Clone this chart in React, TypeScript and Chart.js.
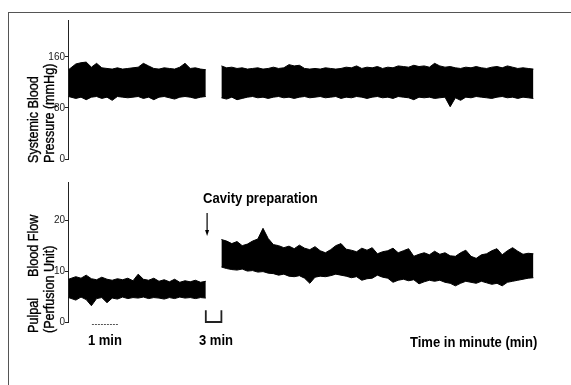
import React, { useEffect, useRef } from "react";
import { Chart, registerables } from "chart.js";

Chart.register(...registerables);

// ---- time samples (minutes, as displayed on the recording) ----
const T_SEG1 = [0.02, 0.3, 0.5, 0.7, 0.9, 1.1, 1.3, 1.5, 1.7, 1.9, 2.1, 2.3, 2.5, 2.7, 2.9, 3.1, 3.3, 3.5, 3.7, 3.9, 4.1, 4.3, 4.5, 4.7, 4.9, 5.1, 5.3];
const T_SEG2 = [
  5.9, 6.1, 6.3, 6.5, 6.7, 6.9, 7.1, 7.3, 7.5, 7.7,
  7.9, 8.1, 8.3, 8.5, 8.7, 8.9, 9.1, 9.3, 9.5, 9.7,
  9.9, 10.1, 10.3, 10.5, 10.7, 10.9, 11.1, 11.3, 11.5, 11.7,
  11.9, 12.1, 12.3, 12.5, 12.7, 12.9, 13.1, 13.3, 13.5, 13.7,
  13.9, 14.1, 14.3, 14.5, 14.7, 14.9, 15.1, 15.3, 15.5, 15.7,
  15.9, 16.1, 16.3, 16.5, 16.7, 16.9, 17.1, 17.3, 17.5, 17.7,
  17.9,
];

// ---- systemic blood pressure (mmHg): upper / lower envelope of the trace ----
const BP_HIGH_1 = [140, 149, 151, 152, 144, 150, 143, 142, 141, 143, 141, 142, 143, 144, 150, 146, 142, 141, 143, 142, 141, 144, 150, 142, 143, 141, 140];
const BP_LOW_1 = [98, 95, 97, 93, 97, 98, 95, 97, 92, 98, 97, 96, 97, 98, 95, 97, 93, 97, 98, 96, 94, 97, 98, 97, 95, 97, 98];
const BP_HIGH_2 = [
  146, 143, 144, 142, 143, 141, 142, 143, 141, 142,
  144, 142, 143, 148, 146, 147, 142, 141, 142, 141,
  143, 142, 141, 142, 144, 143, 146, 142, 144, 143,
  145, 142, 144, 143, 146, 145, 144, 147, 145, 146,
  144, 150, 146, 144, 145, 143, 142, 144, 143, 145,
  143, 142, 144, 145, 143, 146, 144, 142, 143, 142,
  141,
];
const BP_LOW_2 = [
  96, 94, 97, 93, 95, 97, 98, 96, 97, 95,
  97, 98, 96, 97, 95, 97, 98, 96, 97, 98,
  96, 97, 98, 95, 97, 96, 98, 97, 95, 97,
  98, 96, 97, 95, 98, 97, 96, 93, 97, 96,
  97, 95, 96, 97, 82, 96, 92, 97, 96, 98,
  97, 96, 95, 97, 98, 96, 97, 95, 97, 96,
  95,
];

// ---- pulpal blood flow (perfusion units): upper / lower envelope ----
const PF_HIGH_1 = [8.4, 8.9, 8.6, 9.2, 8.5, 8.3, 8.8, 8.4, 8.2, 8.5, 8.3, 8.6, 8.1, 9.4, 8.4, 8.2, 8.6, 8.0, 8.3, 7.9, 8.4, 7.8, 8.1, 7.9, 8.2, 7.8, 8.0];
const PF_LOW_1 = [4.8, 4.3, 4.9, 4.4, 3.2, 4.6, 4.8, 3.8, 4.7, 4.5, 4.9, 4.6, 4.8, 4.7, 4.9, 4.6, 4.8, 4.7, 4.5, 4.8, 4.6, 4.9, 4.7, 4.8, 4.6, 4.8, 4.7];
const PF_HIGH_2 = [
  16.2, 15.9, 15.4, 15.8, 15.0, 15.3, 15.9, 16.3, 18.4, 16.4,
  15.2, 15.0, 14.6, 14.9, 14.4, 15.1, 14.5, 14.2, 14.8, 14.0,
  13.6, 14.2, 15.0, 15.4, 14.3, 14.1, 13.8, 14.5, 14.1, 14.6,
  13.4, 13.8, 14.0, 14.5, 13.6, 14.0, 14.4, 12.9, 13.3, 13.6,
  13.2, 13.9, 13.3, 13.6, 13.0, 12.9, 13.6, 14.1, 12.9, 12.5,
  13.2, 13.4, 14.0, 14.4, 13.2, 14.0, 14.6, 13.9, 13.3, 13.5,
  13.4,
];
const PF_LOW_2 = [
  10.8, 10.5, 10.3, 10.2, 10.4, 10.0, 10.1, 9.8, 9.9, 9.6,
  9.5, 9.2, 9.4, 9.0, 8.9, 9.1, 8.6, 7.6, 8.8, 9.0,
  8.9, 9.1, 9.4, 9.2, 9.0, 8.7, 8.9, 8.2, 8.5, 8.6,
  9.2, 8.8, 8.6, 7.8, 8.2, 8.4, 8.1, 8.3, 7.5, 7.9,
  8.2, 8.0, 8.2, 7.8, 7.6, 7.1, 7.6, 8.0, 7.8, 7.6,
  8.0, 7.7, 7.4, 7.6, 7.1, 7.8, 8.0, 8.2, 8.4, 8.6,
  8.7,
];

// ---- axes ----
const BP_TICKS = [0, 80, 160];
const BP_MAX = 218;
const PF_TICKS = [0, 10, 20];
const PF_MAX = 27.5;
const X_MAX = 18.5;

// ---- annotation values (data units) ----
const CAVITY_T = 5.35;
const CAVITY_LABEL = "Cavity preparation";
const ARROW_FROM = 21.4;
const ARROW_TO = 16.9;
const CAVITY_TEXT_Y = 23.4;
const BRACKET_HEIGHT = 2.3;
const SCALE_BAR = [0.92, 1.92];
const ONE_MIN_LABEL = "1 min";
const THREE_MIN_LABEL = "3 min";
const THREE_MIN_T = 5.69;
const X_TITLE = "Time in minute (min)";
const X_TITLE_T = 15.6;

const TICK_FONT = { family: "'Liberation Sans Narrow', 'Liberation Sans', Arial, sans-serif", size: 10 };
const TITLE_FONT = "14px 'Liberation Sans', Arial, sans-serif";
const BOLD_FONT = "bold 15px 'Liberation Sans', Arial, sans-serif";

function pts(t: number[], v: number[]) {
  return t.map((x, i) => ({ x, y: v[i] }));
}

function band(t: number[], hi: number[], lo: number[]) {
  const common = {
    borderColor: "#000",
    backgroundColor: "#000",
    borderWidth: 1,
    pointRadius: 0,
    tension: 0,
  };
  return [
    { ...common, data: pts(t, hi), fill: "+1" },
    { ...common, data: pts(t, lo), fill: false },
  ];
}

function drawRotated(ctx: CanvasRenderingContext2D, text: string, x: number, y: number) {
  ctx.save();
  ctx.translate(x, y);
  ctx.rotate(-Math.PI / 2);
  ctx.scale(0.9, 1);
  ctx.font = TITLE_FONT;
  ctx.fillStyle = "#000";
  ctx.strokeStyle = "#000";
  ctx.lineWidth = 0.35;
  ctx.textAlign = "left";
  ctx.textBaseline = "middle";
  ctx.fillText(text, 0, 0);
  ctx.strokeText(text, 0, 0);
  ctx.restore();
}

function drawBold(ctx: CanvasRenderingContext2D, text: string, x: number, y: number, align: CanvasTextAlign) {
  ctx.save();
  ctx.translate(x, y);
  ctx.scale(0.87, 1);
  ctx.font = BOLD_FONT;
  ctx.fillStyle = "#000";
  ctx.textAlign = align;
  ctx.textBaseline = "alphabetic";
  ctx.fillText(text, 0, 0);
  ctx.restore();
}

function yScale(max: number, ticks: number[]) {
  return {
    min: 0,
    max,
    afterBuildTicks: (s: any) => {
      s.ticks = ticks.map((v) => ({ value: v }));
    },
    afterFit: (s: any) => {
      s.width = 60;
    },
    ticks: { font: TICK_FONT, color: "#222", padding: 0 },
    grid: { drawOnChartArea: false, drawTicks: true, tickLength: 3, color: "#222", lineWidth: 1 },
    border: { display: true, color: "#222", width: 1, dash: [2, 1] },
  };
}

const topTitles = {
  id: "topTitles",
  afterDraw(chart: any) {
    const { ctx, chartArea } = chart;
    drawRotated(ctx, "Systemic Blood", chartArea.left - 34, chartArea.bottom + 4);
    drawRotated(ctx, "Pressure (mmHg)", chartArea.left - 18, chartArea.bottom + 4);
  },
};

const bottomNotes = {
  id: "bottomNotes",
  afterDraw(chart: any) {
    const { ctx, chartArea } = chart;
    const xs = chart.scales.x;
    const ys = chart.scales.y;
    drawRotated(ctx, "Pulpal", chartArea.left - 34, chartArea.bottom + 11);
    drawRotated(ctx, "Blood Flow", chartArea.left - 34, chartArea.bottom - 45);
    drawRotated(ctx, "(Perfusion Unit)", chartArea.left - 18, chartArea.bottom + 11);

    // cavity preparation arrow
    const ax = xs.getPixelForValue(CAVITY_T);
    drawBold(ctx, CAVITY_LABEL, ax - 4, ys.getPixelForValue(CAVITY_TEXT_Y), "left");
    const a0 = ys.getPixelForValue(ARROW_FROM);
    const a1 = ys.getPixelForValue(ARROW_TO);
    ctx.save();
    ctx.strokeStyle = "#000";
    ctx.fillStyle = "#000";
    ctx.lineWidth = 1.2;
    ctx.beginPath();
    ctx.moveTo(ax, a0);
    ctx.lineTo(ax, a1 - 4);
    ctx.stroke();
    ctx.beginPath();
    ctx.moveTo(ax - 2, a1 - 6);
    ctx.lineTo(ax + 2, a1 - 6);
    ctx.lineTo(ax, a1);
    ctx.closePath();
    ctx.fill();

    // 3 min bracket
    const bx0 = xs.getPixelForValue(T_SEG1[T_SEG1.length - 1]);
    const bx1 = xs.getPixelForValue(T_SEG2[0]);
    const by0 = ys.getPixelForValue(BRACKET_HEIGHT);
    const by1 = ys.getPixelForValue(0);
    ctx.strokeStyle = "#222";
    ctx.lineWidth = 1.8;
    ctx.beginPath();
    ctx.moveTo(bx0, by0);
    ctx.lineTo(bx0, by1);
    ctx.lineTo(bx1, by1);
    ctx.lineTo(bx1, by0);
    ctx.stroke();

    // 1 min scale bar
    ctx.strokeStyle = "#555";
    ctx.lineWidth = 1;
    ctx.setLineDash([2, 1]);
    ctx.beginPath();
    ctx.moveTo(xs.getPixelForValue(SCALE_BAR[0]), chartArea.bottom + 2.5);
    ctx.lineTo(xs.getPixelForValue(SCALE_BAR[1]), chartArea.bottom + 2.5);
    ctx.stroke();
    ctx.restore();

    drawBold(ctx, ONE_MIN_LABEL, xs.getPixelForValue((SCALE_BAR[0] + SCALE_BAR[1]) / 2), chartArea.bottom + 23, "center");
    drawBold(ctx, THREE_MIN_LABEL, xs.getPixelForValue(THREE_MIN_T), chartArea.bottom + 23, "center");
    drawBold(ctx, X_TITLE, xs.getPixelForValue(X_TITLE_T), chartArea.bottom + 25, "center");
  },
};

function makeConfig(datasets: any[], yOpts: any, top: number, bottom: number, plugin: any) {
  return {
    type: "line",
    data: { datasets },
    options: {
      animation: false,
      responsive: false,
      maintainAspectRatio: false,
      events: [],
      layout: { padding: { left: 8, right: 22, top, bottom } },
      plugins: { legend: { display: false }, tooltip: { enabled: false } },
      scales: {
        x: { type: "linear", min: 0, max: X_MAX, display: false },
        y: yOpts,
      },
    },
    plugins: [plugin],
  } as any;
}

export default function App() {
  const topRef = useRef<HTMLCanvasElement>(null);
  const botRef = useRef<HTMLCanvasElement>(null);

  useEffect(() => {
    const c1 = new Chart(
      topRef.current!,
      makeConfig(
        [...band(T_SEG1, BP_HIGH_1, BP_LOW_1), ...band(T_SEG2, BP_HIGH_2, BP_LOW_2)],
        yScale(BP_MAX, BP_TICKS),
        20,
        226,
        topTitles
      )
    );
    const c2 = new Chart(
      botRef.current!,
      makeConfig(
        [...band(T_SEG1, PF_HIGH_1, PF_LOW_1), ...band(T_SEG2, PF_HIGH_2, PF_LOW_2)],
        yScale(PF_MAX, PF_TICKS),
        182,
        63,
        bottomNotes
      )
    );
    return () => {
      c1.destroy();
      c2.destroy();
    };
  }, []);

  const canvasStyle: React.CSSProperties = { position: "absolute", left: 0, top: 0, width: 571, height: 385 };
  return (
    <div style={{ position: "fixed", left: 0, top: 0, width: 571, height: 385, background: "#fff", overflow: "hidden" }}>
      <div
        style={{
          position: "absolute",
          left: 8,
          top: 12,
          right: -4,
          bottom: -4,
          borderTop: "1.5px solid #555",
          borderLeft: "1.5px solid #555",
        }}
      />
      <canvas ref={topRef} width={571} height={385} style={canvasStyle} />
      <canvas ref={botRef} width={571} height={385} style={canvasStyle} />
    </div>
  );
}
